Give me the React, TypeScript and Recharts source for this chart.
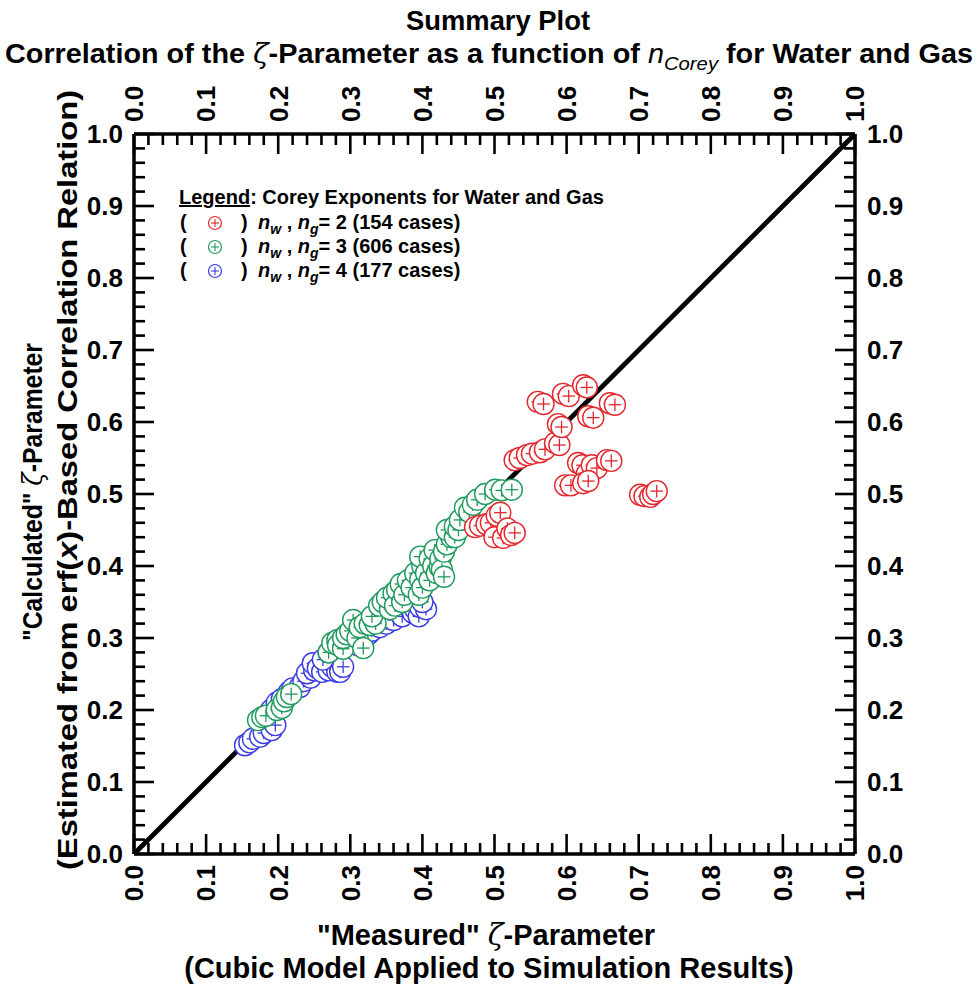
import React from 'react';
import { ScatterChart, Scatter, XAxis, YAxis } from 'recharts';

const W = 978;
const H = 986;
const MARGIN = { top: 104, right: 93, bottom: 102, left: 104 };
const BAND = 30;

const MAJOR_TICKS = [0, 0.1, 0.2, 0.3, 0.4, 0.5, 0.6, 0.7, 0.8, 0.9, 1.0];
const TICK_LABELS = ['0.0', '0.1', '0.2', '0.3', '0.4', '0.5', '0.6', '0.7', '0.8', '0.9', '1.0'];
const ALL_TICKS = [
  0, 0.02, 0.04, 0.06, 0.08, 0.1, 0.12, 0.14, 0.16, 0.18, 0.2, 0.22, 0.24, 0.26, 0.28, 0.3,
  0.32, 0.34, 0.36, 0.38, 0.4, 0.42, 0.44, 0.46, 0.48, 0.5, 0.52, 0.54, 0.56, 0.58, 0.6,
  0.62, 0.64, 0.66, 0.68, 0.7, 0.72, 0.74, 0.76, 0.78, 0.8, 0.82, 0.84, 0.86, 0.88, 0.9,
  0.92, 0.94, 0.96, 0.98, 1.0,
];

// n = 4 (blue)
const BLUE_POINTS: [number, number][] = [
  [0.154, 0.151], [0.16, 0.155], [0.165, 0.16], [0.175, 0.163], [0.18, 0.168], [0.191, 0.172],
  [0.196, 0.179], [0.19, 0.2], [0.198, 0.21], [0.205, 0.215], [0.215, 0.225], [0.22, 0.23],
  [0.23, 0.232], [0.235, 0.24], [0.245, 0.245], [0.24, 0.251], [0.25, 0.255], [0.248, 0.265],
  [0.255, 0.258], [0.261, 0.253], [0.27, 0.255], [0.275, 0.26], [0.282, 0.253], [0.286, 0.253],
  [0.29, 0.26], [0.262, 0.27], [0.27, 0.28], [0.3, 0.3], [0.31, 0.29], [0.325, 0.305],
  [0.33, 0.31], [0.341, 0.315], [0.35, 0.32], [0.36, 0.325], [0.37, 0.34], [0.372, 0.33],
  [0.38, 0.345], [0.387, 0.335], [0.39, 0.34], [0.395, 0.33], [0.397, 0.343], [0.405, 0.34],
  [0.4, 0.35],
];

// n = 3 (green)
const GREEN_POINTS: [number, number][] = [
  [0.172, 0.186], [0.178, 0.19], [0.183, 0.192], [0.198, 0.2], [0.205, 0.203], [0.208, 0.212],
  [0.212, 0.218], [0.218, 0.222], [0.27, 0.28], [0.275, 0.293], [0.282, 0.297], [0.283, 0.29],
  [0.29, 0.285], [0.29, 0.3], [0.295, 0.305], [0.3, 0.31], [0.31, 0.3], [0.304, 0.325],
  [0.313, 0.315], [0.318, 0.286], [0.32, 0.32], [0.327, 0.318], [0.335, 0.32], [0.33, 0.33],
  [0.34, 0.345], [0.345, 0.35], [0.355, 0.34], [0.351, 0.356], [0.36, 0.362], [0.362, 0.345],
  [0.365, 0.367], [0.37, 0.375], [0.372, 0.35], [0.375, 0.36], [0.38, 0.38], [0.385, 0.37],
  [0.39, 0.39], [0.395, 0.36], [0.397, 0.381], [0.4, 0.37], [0.4, 0.4], [0.397, 0.413],
  [0.405, 0.39], [0.41, 0.41], [0.41, 0.38], [0.415, 0.4], [0.417, 0.422], [0.42, 0.39],
  [0.424, 0.399], [0.425, 0.41], [0.427, 0.395], [0.43, 0.385], [0.43, 0.42], [0.434, 0.43],
  [0.44, 0.44], [0.434, 0.45], [0.445, 0.44], [0.445, 0.455], [0.45, 0.45], [0.452, 0.464],
  [0.459, 0.481], [0.465, 0.475], [0.47, 0.485], [0.476, 0.492], [0.487, 0.5], [0.501, 0.506],
  [0.51, 0.505], [0.524, 0.506],
];

// n = 2 (red)
const RED_POINTS: [number, number][] = [
  [0.473, 0.454], [0.48, 0.456], [0.489, 0.458], [0.495, 0.46], [0.5, 0.44], [0.503, 0.47],
  [0.508, 0.474], [0.512, 0.439], [0.518, 0.452], [0.523, 0.443], [0.528, 0.446],
  [0.528, 0.547], [0.535, 0.55], [0.545, 0.554], [0.552, 0.556], [0.563, 0.558], [0.57, 0.562],
  [0.584, 0.571], [0.59, 0.568], [0.588, 0.597], [0.593, 0.593], [0.56, 0.628], [0.568, 0.625],
  [0.595, 0.639], [0.603, 0.636], [0.623, 0.651], [0.628, 0.648], [0.63, 0.608], [0.637, 0.606],
  [0.66, 0.626], [0.667, 0.624], [0.616, 0.543], [0.622, 0.54], [0.628, 0.528], [0.635, 0.54],
  [0.642, 0.536], [0.656, 0.547], [0.662, 0.546], [0.598, 0.512], [0.606, 0.512], [0.623, 0.515],
  [0.63, 0.518], [0.702, 0.499], [0.708, 0.497], [0.716, 0.496], [0.72, 0.5], [0.725, 0.504],
];

const DIAGONAL: [number, number][] = [[0, 0], [1, 1]];

const RED = '#e3262c';
const GREEN = '#1f9a5c';
const BLUE = '#3b3be3';

const toObjs = (pts: [number, number][]) => pts.map(([x, y]) => ({ x, y }));

const FONT = "'Liberation Sans', Arial, Helvetica, sans-serif";
const TICK_STYLE: React.CSSProperties = { fontFamily: FONT, fontWeight: 700, fontSize: 26, fill: '#000' };
const ZETA = "'DejaVu Serif', serif";

const majorIndex = (v: number) => MAJOR_TICKS.findIndex((m) => Math.abs(m - v) < 1e-9);

const makeTick = (orient: 'bottom' | 'top' | 'left' | 'right') => (props: any) => {
  const { x, y, payload } = props;
  const v = payload.value;
  const idx = majorIndex(v);
  const major = idx >= 0;
  const len = major ? 20 : 11;
  let line;
  let label = null;
  if (orient === 'bottom') {
    line = <line x1={x} y1={y} x2={x} y2={y - len} stroke="#000" strokeWidth={2.6} />;
    if (major)
      label = (
        <text transform={`translate(${x},${y + 11}) rotate(-90)`} textAnchor="end" dy="0.36em" style={TICK_STYLE}>
          {TICK_LABELS[idx]}
        </text>
      );
  } else if (orient === 'top') {
    line = <line x1={x} y1={y} x2={x} y2={y + len} stroke="#000" strokeWidth={2.6} />;
    if (major)
      label = (
        <text transform={`translate(${x},${y - 12}) rotate(-90)`} textAnchor="start" dy="0.36em" style={TICK_STYLE}>
          {TICK_LABELS[idx]}
        </text>
      );
  } else if (orient === 'left') {
    line = <line x1={x} y1={y} x2={x + len} y2={y} stroke="#000" strokeWidth={2.6} />;
    if (major)
      label = (
        <text x={x - 11} y={y} textAnchor="end" dy="0.36em" style={TICK_STYLE}>
          {TICK_LABELS[idx]}
        </text>
      );
  } else {
    line = <line x1={x} y1={y} x2={x - len} y2={y} stroke="#000" strokeWidth={2.6} />;
    if (major)
      label = (
        <text x={x + 12} y={y} textAnchor="start" dy="0.36em" style={TICK_STYLE}>
          {TICK_LABELS[idx]}
        </text>
      );
  }
  return (
    <g>
      {line}
      {label}
    </g>
  );
};

const makeShape = (color: string, r: number) => (props: any) => {
  const { cx, cy } = props;
  if (cx == null || cy == null) return <g />;
  const a = r * 0.6;
  return (
    <g>
      <circle cx={cx} cy={cy} r={r} fill="#fff" stroke={color} strokeWidth={1.4} />
      <line x1={cx - a} y1={cy} x2={cx + a} y2={cy} stroke={color} strokeWidth={1.3} />
      <line x1={cx} y1={cy - a} x2={cx} y2={cy + a} stroke={color} strokeWidth={1.3} />
    </g>
  );
};

const LegendMarker = ({ cx, cy, color }: { cx: number; cy: number; color: string }) => (
  <g>
    <circle cx={cx} cy={cy} r={6.5} fill="#fff" stroke={color} strokeWidth={1.2} />
    <line x1={cx - 4} y1={cy} x2={cx + 4} y2={cy} stroke={color} strokeWidth={1.1} />
    <line x1={cx} y1={cy - 4} x2={cx} y2={cy + 4} stroke={color} strokeWidth={1.1} />
  </g>
);

const LEGEND_ROWS = [
  { color: RED, text: '= 2 (154 cases)' },
  { color: GREEN, text: '= 3 (606 cases)' },
  { color: BLUE, text: '= 4 (177 cases)' },
];

const Overlay = () => {
  const lf: React.CSSProperties = { fontFamily: FONT, fontWeight: 700, fontSize: 20, fill: '#000' };
  return (
    <svg width={W} height={H} style={{ position: 'absolute', left: 0, top: 0, pointerEvents: 'none' }}>
      {/* titles */}
      <text
        x={498}
        y={30}
        textAnchor="middle"
        textLength={184}
        lengthAdjust="spacingAndGlyphs"
        style={{ fontFamily: FONT, fontWeight: 700, fontSize: 28, fill: '#000' }}
      >
        Summary Plot
      </text>
      <text
        x={489}
        y={63}
        textAnchor="middle"
        textLength={968}
        lengthAdjust="spacingAndGlyphs"
        style={{ fontFamily: FONT, fontWeight: 700, fontSize: 27, fill: '#000' }}
      >
        Correlation of the <tspan fontStyle="italic" fontWeight={400} fontFamily={ZETA}>ζ</tspan>-Parameter as a function of{' '}
        <tspan fontStyle="italic" fontWeight={400}>n</tspan>
        <tspan fontStyle="italic" fontWeight={400} fontSize={19} dy={7}>Corey</tspan>
        <tspan dy={-7}> for Water and Gas</tspan>
      </text>

      {/* bottom axis title */}
      <text x={486} y={945} textAnchor="middle" style={{ fontFamily: FONT, fontWeight: 700, fontSize: 29, fill: '#000' }}>
        "Measured" <tspan fontStyle="italic" fontWeight={400} fontFamily={ZETA}>ζ</tspan>-Parameter
      </text>
      <text x={489} y={978} textAnchor="middle" style={{ fontFamily: FONT, fontWeight: 700, fontSize: 29, fill: '#000' }}>
        (Cubic Model Applied to Simulation Results)
      </text>

      {/* left axis title */}
      <text
        transform="translate(42,492) rotate(-90)"
        textAnchor="middle"
        textLength={298}
        lengthAdjust="spacingAndGlyphs"
        style={{ fontFamily: FONT, fontWeight: 700, fontSize: 28, fill: '#000' }}
      >
        "Calculated" <tspan fontStyle="italic" fontWeight={400} fontFamily={ZETA}>ζ</tspan>-Parameter
      </text>
      <text
        transform="translate(77,480) rotate(-90)"
        textAnchor="middle"
        textLength={780}
        lengthAdjust="spacingAndGlyphs"
        style={{ fontFamily: FONT, fontWeight: 700, fontSize: 28, fill: '#000' }}
      >
        (Estimated from erf(<tspan fontStyle="italic">x</tspan>)-Based Correlation Relation)
      </text>

      {/* legend */}
      <text x={179} y={204} style={lf}>
        <tspan textDecoration="underline">Legend</tspan>: Corey Exponents for Water and Gas
      </text>
      {LEGEND_ROWS.map((row, i) => {
        const b = 229 + i * 24;
        return (
          <g key={i}>
            <text x={180} y={b} style={lf}>(</text>
            <LegendMarker cx={215} cy={b - 6} color={row.color} />
            <text x={241} y={b} style={lf}>)</text>
            <text x={258} y={b} style={lf}>
              <tspan fontStyle="italic">n</tspan>
              <tspan fontStyle="italic" fontSize={14} dy={5}>w</tspan>
              <tspan dy={-5}> , </tspan>
              <tspan fontStyle="italic">n</tspan>
              <tspan fontStyle="italic" fontSize={14} dy={5}>g</tspan>
              <tspan dy={-5}>{row.text}</tspan>
            </text>
          </g>
        );
      })}
    </svg>
  );
};

const axisCommon = {
  type: 'number' as const,
  domain: [0, 1] as [number, number],
  allowDataOverflow: true,
  ticks: ALL_TICKS,
  interval: 0 as const,
  tickSize: 0,
  tickMargin: 0,
  tickLine: false,
  axisLine: { stroke: '#000', strokeWidth: 3.5 },
};

export default function App() {
  return (
    <div style={{ position: 'absolute', left: 0, top: 0, width: W, height: H, background: '#fff' }}>
      <ScatterChart width={W} height={H} margin={MARGIN} style={{ position: 'absolute', left: 0, top: 0 }}>
        <XAxis xAxisId="bottom" orientation="bottom" dataKey="x" height={BAND} tick={makeTick('bottom')} {...axisCommon} />
        <XAxis xAxisId="top" orientation="top" dataKey="x" height={BAND} tick={makeTick('top')} {...axisCommon} />
        <YAxis yAxisId="left" orientation="left" dataKey="y" width={BAND} tick={makeTick('left')} {...axisCommon} />
        <YAxis yAxisId="right" orientation="right" dataKey="y" width={BAND} tick={makeTick('right')} {...axisCommon} />
        <Scatter
          xAxisId="bottom"
          yAxisId="left"
          data={toObjs(DIAGONAL)}
          line={{ stroke: '#000', strokeWidth: 4.8 }}
          shape={() => <g />}
          isAnimationActive={false}
        />
        <Scatter xAxisId="bottom" yAxisId="left" data={toObjs(BLUE_POINTS)} shape={makeShape(BLUE, 10.5)} isAnimationActive={false} />
        <Scatter xAxisId="bottom" yAxisId="left" data={toObjs(GREEN_POINTS)} shape={makeShape(GREEN, 10.5)} isAnimationActive={false} />
        <Scatter xAxisId="bottom" yAxisId="left" data={toObjs(RED_POINTS)} shape={makeShape(RED, 10.5)} isAnimationActive={false} />
      </ScatterChart>
      <Overlay />
    </div>
  );
}
